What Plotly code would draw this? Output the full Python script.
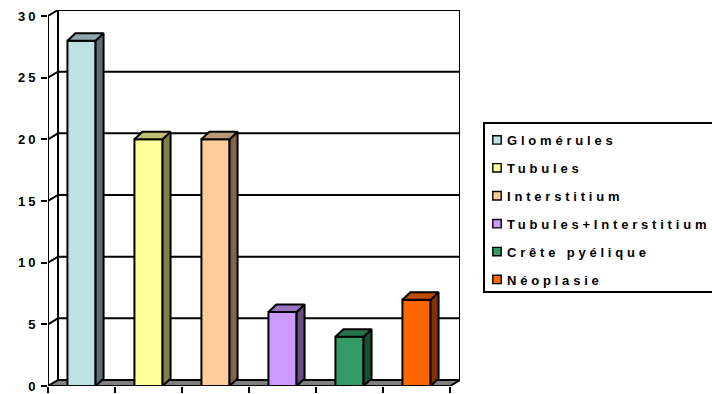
import plotly.graph_objects as go

# --- data ---------------------------------------------------------------
categories = ["Glomérules", "Tubules", "Interstitium",
              "Tubules+Interstitium", "Crête pyélique", "Néoplasie"]
values = [28, 20, 20, 6, 4, 7]
front_colors = ["#BEE1E4", "#FFFF99", "#FFCC99", "#CC99FF", "#339966", "#FF6600"]
side_colors = ["#5E6E70", "#80804D", "#80664D", "#664D80", "#1A4D33", "#803300"]
top_colors = ["#8DA8AB", "#BFBF73", "#BF9973", "#9973BF", "#26734D", "#BF4C00"]
y_ticks = [0, 5, 10, 15, 20, 25, 30]

# --- 3-D look: depth offsets expressed in axis units ----------------------
PX_PER_X = 67.0          # pixels per category slot
PX_PER_Y = 370.0 / 30.0  # pixels per value unit
WALL_DX = 10 / PX_PER_X
WALL_DY = 6 / PX_PER_Y
BAR_DX = 8 / PX_PER_X
BAR_DY = 7.5 / PX_PER_Y
BAR_W = 0.42
X0, X1 = -0.5, len(categories) - 0.5
YMAX = max(y_ticks)

FONT = dict(family="Liberation Sans, Arial, sans-serif", size=13, color="black", weight="bold")
EDGE = dict(color="black", width=2)

fig = go.Figure()

# front faces of the columns
for i, (cat, v) in enumerate(zip(categories, values)):
    fig.add_trace(go.Bar(
        x=[i], y=[v], width=BAR_W, name=cat, legendgroup=cat,
        marker=dict(color=front_colors[i], line=EDGE),
        hoverinfo="name+y",
    ))

# side and top faces
for i, v in enumerate(values):
    xl, xr = i - BAR_W / 2, i + BAR_W / 2
    fig.add_trace(go.Scatter(
        x=[xr, xr + BAR_DX, xr + BAR_DX, xr, xr],
        y=[0, BAR_DY, v + BAR_DY, v, 0],
        mode="lines", fill="toself", fillcolor=side_colors[i],
        line=EDGE, showlegend=False, hoverinfo="skip",
    ))
    fig.add_trace(go.Scatter(
        x=[xl, xl + BAR_DX, xr + BAR_DX, xr, xl],
        y=[v, v + BAR_DY, v + BAR_DY, v, v],
        mode="lines", fill="toself", fillcolor=top_colors[i],
        line=EDGE, showlegend=False, hoverinfo="skip",
    ))

# walls, floor and gridlines behind the columns
shapes = []
shapes.append(dict(type="rect", xref="x", yref="y", layer="below",
                   x0=X0 + WALL_DX, x1=X1 + WALL_DX, y0=WALL_DY, y1=YMAX + WALL_DY,
                   fillcolor="white", line=EDGE))
for t in y_ticks[1:]:
    shapes.append(dict(type="path", xref="x", yref="y", layer="below", line=EDGE,
                       path=f"M{X0},{t} L{X0 + WALL_DX},{t + WALL_DY} L{X1 + WALL_DX},{t + WALL_DY}"))
shapes.append(dict(type="path", xref="x", yref="y", layer="below",
                   path=(f"M{X0},0 L{X1},0 L{X1 + WALL_DX},{WALL_DY} "
                         f"L{X0 + WALL_DX},{WALL_DY} Z"),
                   fillcolor="#808080", line=EDGE))
shapes.append(dict(type="line", xref="x", yref="y", layer="below",
                   x0=X0, x1=X0, y0=0, y1=YMAX, line=EDGE))

# legend frame
L, R, T, B = 48, 460, 10, 386
def px_x(p):
    return (p - L) / (R - L)
def px_y(p):
    return (B - p) / (B - T)
shapes.append(dict(type="rect", xref="paper", yref="paper",
                   x0=px_x(484), x1=px_x(722), y0=px_y(292), y1=px_y(123),
                   line=EDGE, fillcolor="rgba(0,0,0,0)"))

fig.update_layout(
    width=712, height=394, autosize=False,
    margin=dict(l=L, r=712 - R, t=T, b=394 - B, pad=0, autoexpand=False),
    paper_bgcolor="white", plot_bgcolor="white",
    barmode="overlay", shapes=shapes, font=FONT,
    showlegend=True,
    legend=dict(x=px_x(477), xanchor="left", y=px_y(125), yanchor="top",
                bgcolor="rgba(0,0,0,0)", borderwidth=0, font=FONT,
                tracegroupgap=8),
    xaxis=dict(range=[X0, X1 + WALL_DX], tickvals=[k - 0.5 for k in range(len(categories) + 1)],
               showticklabels=False, ticks="outside", ticklen=6, tickwidth=2, tickcolor="black",
               showgrid=False, zeroline=False, showline=False, fixedrange=True),
    yaxis=dict(range=[0, YMAX + WALL_DY], tickvals=y_ticks, ticks="outside", ticklen=6,
               tickwidth=2, tickcolor="black", tickfont=FONT,
               showgrid=False, zeroline=False, showline=False, fixedrange=True),
)

# widen the letter spacing of the labels, tighten the legend swatches; the
# legend font list is restated so that the legend measures its entries again
spacing_js = """
var gd = document.getElementById('{plot_id}');
var st = document.createElement('style');
st.textContent =
  '.legendtext{letter-spacing:3.8px !important;transform:translateX(-10px)} ' +
  '.legendpoints path{transform:translate(20px,0px) scale(0.7)} ' +
  '.ytick text{letter-spacing:3px !important}';
document.head.appendChild(st);
Plotly.relayout(gd, {'legend.font.family': 'Liberation Sans, Arial, Helvetica, sans-serif'});
"""

fig.write_html("out.html", config={"displayModeBar": False}, post_script=spacing_js)
